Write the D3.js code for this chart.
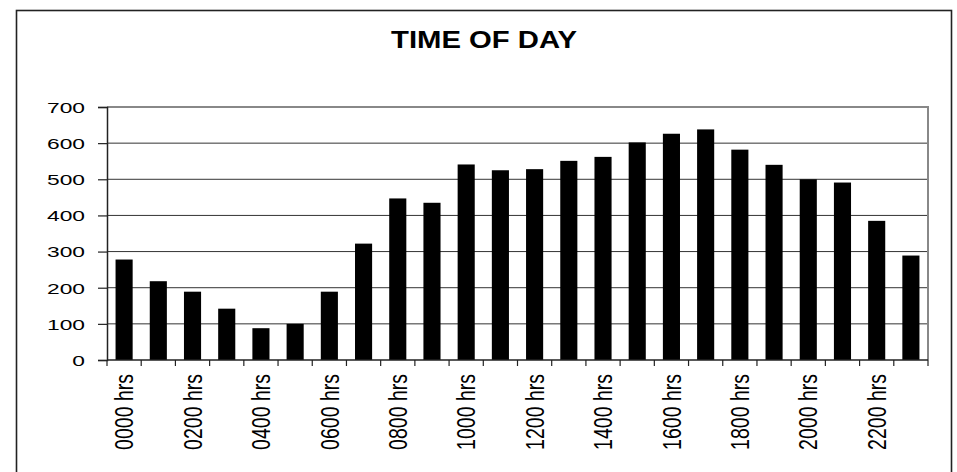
<!DOCTYPE html>
<html><head><meta charset="utf-8">
<script src="https://cdn.jsdelivr.net/npm/d3@7"></script>
<style>body{margin:0;background:#fff}svg{display:block}</style>
</head><body>
<script>
const categories = ["0000 hrs","0100 hrs","0200 hrs","0300 hrs","0400 hrs","0500 hrs","0600 hrs","0700 hrs","0800 hrs","0900 hrs","1000 hrs","1100 hrs","1200 hrs","1300 hrs","1400 hrs","1500 hrs","1600 hrs","1700 hrs","1800 hrs","1900 hrs","2000 hrs","2100 hrs","2200 hrs","2300 hrs"];
const values = [278,218,189,142,88,100,189,322,447,435,541,525,528,551,562,602,626,638,582,540,500,491,385,289];
const yTicks = [0,100,200,300,400,500,600,700];
const title = "TIME OF DAY";

const W = 957, H = 472;
const m = {left:107, right:928, top:107, bottom:360};
const svg = d3.select("body").append("svg").attr("width",W).attr("height",H);
const font = "Arial, 'Liberation Sans', sans-serif";

// outer frame
svg.append("rect").attr("x",16.5).attr("y",10.5).attr("width",935).attr("height",480)
  .attr("fill","none").attr("stroke","#222").attr("stroke-width",1.6);

// title
svg.append("text").attr("transform","translate(484,48) scale(1.22,1)")
  .attr("text-anchor","middle").attr("font-family",font).attr("font-weight","bold")
  .attr("font-size",24).attr("fill","#000").text(title);

const x = d3.scaleBand().domain(categories).range([m.left,m.right]).paddingInner(0.5).paddingOuter(0.25);
const y = d3.scaleLinear().domain([0,700]).range([m.bottom,m.top]);

// gridlines
svg.append("g").selectAll("line").data(yTicks.filter(d=>d>0 && d<700)).join("line")
  .attr("x1",m.left).attr("x2",m.right).attr("y1",d=>y(d)).attr("y2",d=>y(d))
  .attr("stroke","#333").attr("stroke-width",1);

// plot border top/right
svg.append("path").attr("d",`M${m.left},${y(700)}H${m.right}V${m.bottom}`)
  .attr("fill","none").attr("stroke","#888").attr("stroke-width",2);

// bars
svg.append("g").selectAll("rect").data(values).join("rect")
  .attr("x",(d,i)=>x(categories[i])).attr("width",x.bandwidth())
  .attr("y",d=>y(d)).attr("height",d=>y(0)-y(d)).attr("fill","#000");

// y axis
const ya = svg.append("g").attr("transform",`translate(${m.left},0)`)
  .call(d3.axisLeft(y).tickValues(yTicks).tickSize(9).tickPadding(0).tickFormat(d3.format("d")));
ya.select(".domain").attr("stroke","#222").attr("stroke-width",1.5);
ya.selectAll(".tick line").attr("stroke","#222").attr("stroke-width",1.2);
ya.selectAll(".tick text").each(function(){
  const t = d3.select(this);
  const ty = d3.select(this.parentNode).attr("transform");
  t.attr("x",null).attr("font-size",15).attr("font-family",font).attr("fill","#000")
   .attr("dy","0.36em").attr("text-anchor","end")
   .attr("transform","translate(-22,0) scale(1.52,1)");
});

// x axis baseline and ticks at band boundaries
const step = x.step();
const bounds = d3.range(categories.length+1).map(i=>m.left + i*step);
svg.append("line").attr("x1",m.left).attr("x2",m.right).attr("y1",m.bottom).attr("y2",m.bottom)
  .attr("stroke","#222").attr("stroke-width",1.5);
svg.append("g").selectAll("line").data(bounds).join("line")
  .attr("x1",d=>d).attr("x2",d=>d).attr("y1",m.bottom).attr("y2",m.bottom+6)
  .attr("stroke","#222").attr("stroke-width",1.2);

// x labels every other
svg.append("g").selectAll("text").data(categories.filter((c,i)=>i%2===0)).join("text")
  .attr("transform",d=>`translate(${x(d)+x.bandwidth()/2},374) scale(1.31,1) rotate(-90)`)
  .attr("text-anchor","end").attr("dy","0.36em")
  .attr("font-family",font).attr("font-size",19.5).attr("fill","#000").text(d=>d);
</script>
</body></html>
